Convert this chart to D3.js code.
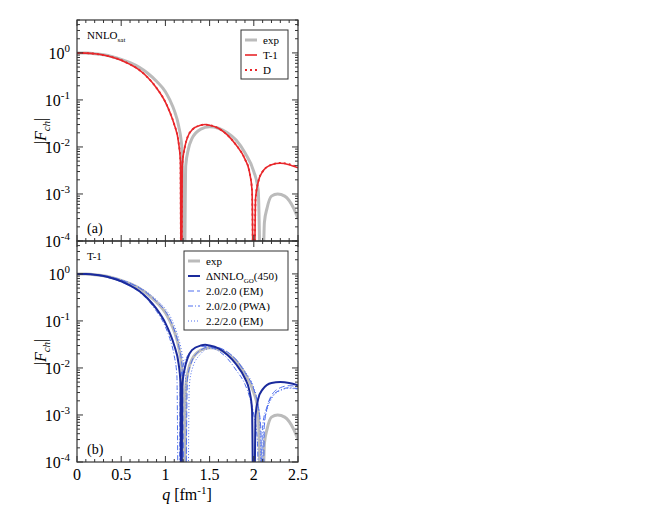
<!DOCTYPE html>
<html><head><meta charset="utf-8">
<script src="https://cdn.jsdelivr.net/npm/d3@7"></script>
<style>body{margin:0;background:#fff}text{font-family:"Liberation Serif","DejaVu Serif",serif}</style>
</head><body><div id="vis"></div>
<script>
// |F_ch|; 1e-6 marks a zero crossing
const expQ = [0,0.1,0.2,0.3,0.4,0.5,0.6,0.7,0.8,0.9,1.0,1.05,1.1,1.15,1.19,1.21,1.23,1.26,1.3,1.4,1.5,1.6,1.7,1.8,1.9,2.0,2.05,2.09,2.12,2.15,2.2,2.27,2.35,2.45,2.5];
const expF = [1,0.99,0.96,0.91,0.83,0.73,0.62,0.5,0.37,0.25,0.15,0.1,0.06,0.028,0.008,1e-6,0.004,0.009,0.015,0.024,0.027,0.025,0.02,0.014,0.0075,0.003,0.0012,1e-6,0.00025,0.0005,0.0009,0.001,0.0009,0.0005,0.0003];
const t1Q = [0,0.1,0.2,0.3,0.4,0.5,0.6,0.7,0.8,0.9,1.0,1.05,1.1,1.15,1.17,1.18,1.19,1.22,1.25,1.3,1.4,1.45,1.5,1.6,1.7,1.8,1.9,1.95,1.98,2.0,2.02,2.05,2.1,2.2,2.3,2.4,2.5];
const t1F = [1,0.99,0.96,0.9,0.81,0.7,0.57,0.44,0.3,0.18,0.09,0.055,0.03,0.012,0.005,1e-6,0.004,0.01,0.016,0.023,0.029,0.03,0.029,0.025,0.018,0.011,0.0055,0.003,0.0012,1e-6,0.0008,0.0018,0.003,0.0042,0.0045,0.0042,0.0036];
const dF = [1,0.99,0.96,0.9,0.81,0.7,0.57,0.44,0.3,0.18,0.09,0.055,0.03,0.012,0.005,1e-6,0.004,0.01,0.016,0.023,0.029,0.03,0.029,0.025,0.018,0.011,0.0055,0.003,0.0012,1e-6,0.0008,0.0018,0.003,0.0042,0.0046,0.0043,0.0037];
const goF = [1,0.99,0.96,0.9,0.81,0.7,0.57,0.44,0.3,0.18,0.09,0.055,0.03,0.012,0.005,1e-6,0.004,0.01,0.016,0.024,0.03,0.031,0.03,0.026,0.019,0.012,0.006,0.0033,0.0013,1e-6,0.001,0.0022,0.0035,0.0048,0.005,0.0048,0.0043];
const emQ = [0,0.1,0.2,0.3,0.4,0.5,0.6,0.7,0.8,0.9,1.0,1.05,1.1,1.15,1.19,1.22,1.25,1.28,1.3,1.4,1.5,1.6,1.7,1.8,1.9,2.0,2.05,2.08,2.1,2.12,2.15,2.2,2.3,2.4,2.5];
const emF = [1,0.99,0.97,0.92,0.84,0.74,0.63,0.51,0.38,0.26,0.16,0.11,0.065,0.03,0.01,1e-6,0.006,0.011,0.014,0.024,0.028,0.027,0.022,0.015,0.008,0.0035,0.0015,0.0005,1e-6,0.0006,0.0014,0.0026,0.0038,0.0042,0.004];
const pwaQ = [0,0.1,0.2,0.3,0.4,0.5,0.6,0.7,0.8,0.9,1.0,1.05,1.1,1.13,1.15,1.17,1.2,1.25,1.3,1.4,1.5,1.6,1.7,1.8,1.9,1.95,2.0,2.04,2.07,2.1,2.15,2.2,2.3,2.4,2.5];
const pwaF = [1,0.99,0.95,0.89,0.79,0.68,0.55,0.42,0.28,0.16,0.075,0.042,0.018,0.007,1e-6,0.005,0.011,0.018,0.024,0.029,0.028,0.023,0.016,0.009,0.0045,0.0025,0.001,0.0003,1e-6,0.0006,0.0015,0.0024,0.0034,0.0038,0.0036];
const eq2Q = [0,0.1,0.2,0.3,0.4,0.5,0.6,0.7,0.8,0.9,1.0,1.05,1.1,1.15,1.2,1.23,1.25,1.27,1.3,1.4,1.5,1.6,1.7,1.8,1.9,2.0,2.05,2.07,2.09,2.11,2.15,2.2,2.3,2.4,2.5];
const eq2F = [1,0.99,0.97,0.92,0.85,0.75,0.64,0.52,0.4,0.28,0.18,0.13,0.08,0.042,0.015,0.005,1e-6,0.004,0.009,0.02,0.026,0.026,0.022,0.015,0.0085,0.0038,0.0016,0.0007,1e-6,0.0005,0.0013,0.0022,0.0033,0.0037,0.0035];
const yTicks = [-4,-3,-2,-1,0];
const xTicks = [0,0.5,1,1.5,2,2.5];

const W = 664, H = 513;
const svg = d3.select("#vis").append("svg").attr("width", W).attr("height", H);
const x = d3.scaleLinear().domain([0, 2.5]).range([77, 298]);

function panel(top, series, label, tag, legend, lx, ly, lw){
  const y = d3.scaleLog().domain([1e-4, Math.pow(10, 0.7)]).range([top + 221, top]);
  const g = svg.append("g");
  const cid = "clip" + top;
  svg.append("clipPath").attr("id", cid).append("rect")
    .attr("x", 77).attr("y", top).attr("width", 221).attr("height", 221);
  const line = d3.line().x(d => x(d[0])).y(d => y(d[1])).curve(d3.curveMonotoneX);
  series.forEach(s => {
    g.append("path").attr("clip-path", `url(#${cid})`)
      .datum(s.q.map((q, i) => [q, s.f[i]]))
      .attr("d", line).attr("fill", "none").attr("stroke", s.color)
      .attr("stroke-width", s.w).attr("stroke-dasharray", s.dash || null);
  });
  // frame and ticks
  g.append("rect").attr("x", 77).attr("y", top).attr("width", 221).attr("height", 221)
    .attr("fill", "none").attr("stroke", "#333").attr("stroke-width", 1.2);
  yTicks.forEach(e => {
    for (let m = 1; m < 10; m++) {
      const v = m * Math.pow(10, e);
      if (v > Math.pow(10, 0.7)) break;
      const len = m === 1 ? 6 : 3;
      [[77, len], [298, -len]].forEach(([x0, d]) =>
        g.append("line").attr("x1", x0).attr("x2", x0 + d).attr("y1", y(v)).attr("y2", y(v))
          .attr("stroke", "#333"));
    }
    const t = g.append("text").attr("x", 70).attr("y", y(Math.pow(10, e)) + 6)
      .attr("text-anchor", "end").attr("font-size", 16).text("10");
    t.append("tspan").attr("dy", -7).attr("font-size", 11).text(e);
  });
  d3.range(0, 2.51, 0.1).forEach(v => {
    const major = Math.abs(v * 2 - Math.round(v * 2)) < 1e-6;
    const len = major ? 6 : 3;
    [[top + 221, -len], [top, len]].forEach(([y0, d]) =>
      g.append("line").attr("x1", x(v)).attr("x2", x(v)).attr("y1", y0).attr("y2", y0 + d)
        .attr("stroke", "#333"));
  });
  const yl = g.append("text").attr("transform", `translate(46,${top + 111}) rotate(-90)`)
    .attr("text-anchor", "middle").attr("font-size", 16).attr("font-style", "italic");
  yl.append("tspan").attr("font-style", "normal").text("|");
  yl.append("tspan").text("F");
  yl.append("tspan").attr("dy", 4).attr("font-size", 11).text("ch");
  yl.append("tspan").attr("dy", -4).attr("font-style", "normal").text("|");
  const tg = g.append("text").attr("x", 87).attr("y", top + 19).attr("font-size", 11);
  tg.append("tspan").text(tag[0]);
  if (tag[1]) tg.append("tspan").attr("dy", 3).attr("font-size", 7).text(tag[1]);
  g.append("text").attr("x", 87).attr("y", top + 213).attr("font-size", 14).text(label);
  // legend
  g.append("rect").attr("x", lx).attr("y", ly).attr("width", lw).attr("height", legend.length * 15 + 4)
    .attr("fill", "#fff").attr("stroke", "#333");
  legend.forEach((s, i) => {
    const yy = ly + 10 + i * 15;
    g.append("line").attr("x1", lx + 4).attr("x2", lx + 16).attr("y1", yy).attr("y2", yy)
      .attr("stroke", s.color).attr("stroke-width", s.w).attr("stroke-dasharray", s.dash || null);
    const t = g.append("text").attr("x", lx + 22).attr("y", yy + 4).attr("font-size", 11);
    s.name.forEach((p, j) => {
      if (j === 1) t.append("tspan").attr("dy", 3).attr("font-size", 7).text(p);
      else if (j === 2) t.append("tspan").attr("dy", -3).text(p);
      else t.append("tspan").text(p);
    });
  });
  return g;
}

const gray = "#bbbbbb", red = "#e8262a", navy = "#1a2a9c", lb = "#4f6fef";
const sExp = {q: expQ, f: expF, color: gray, w: 3, name: ["exp"]};
panel(20, [sExp,
  {q: t1Q, f: t1F, color: red, w: 1.6, name: ["T-1"]},
  {q: t1Q, f: dF, color: red, w: 1.8, dash: "2,3", name: ["D"]}],
  "(a)", ["NNLO", "sat"],
  [sExp, {color: red, w: 1.6, name: ["T-1"]}, {color: red, w: 1.8, dash: "2,3", name: ["D"]}], 241, 30, 47);

const sEm = {q: emQ, f: emF, color: lb, w: 1, dash: "6,3", name: ["2.0/2.0 (EM)"]};
const sPwa = {q: pwaQ, f: pwaF, color: lb, w: 1, dash: "5,2,1,2", name: ["2.0/2.0 (PWA)"]};
const sEq2 = {q: eq2Q, f: eq2F, color: lb, w: 1, dash: "1,2", name: ["2.2/2.0 (EM)"]};
const sGo = {q: t1Q, f: goF, color: navy, w: 2, name: ["ΔNNLO", "GO", "(450)"]};
panel(241, [sExp, sEm, sPwa, sEq2, sGo], "(b)", ["T-1"],
  [sExp, sGo, sEm, sPwa, sEq2], 184, 251, 104);

xTicks.forEach(v => svg.append("text").attr("x", x(v)).attr("y", 480)
  .attr("text-anchor", "middle").attr("font-size", 16).text(v));
const xl = svg.append("text").attr("x", 187).attr("y", 500).attr("text-anchor", "middle").attr("font-size", 16);
xl.append("tspan").attr("font-style", "italic").text("q");
xl.append("tspan").text(" [fm");
xl.append("tspan").attr("dy", -6).attr("font-size", 11).text("-1");
xl.append("tspan").attr("dy", 6).text("]");
</script></body></html>
